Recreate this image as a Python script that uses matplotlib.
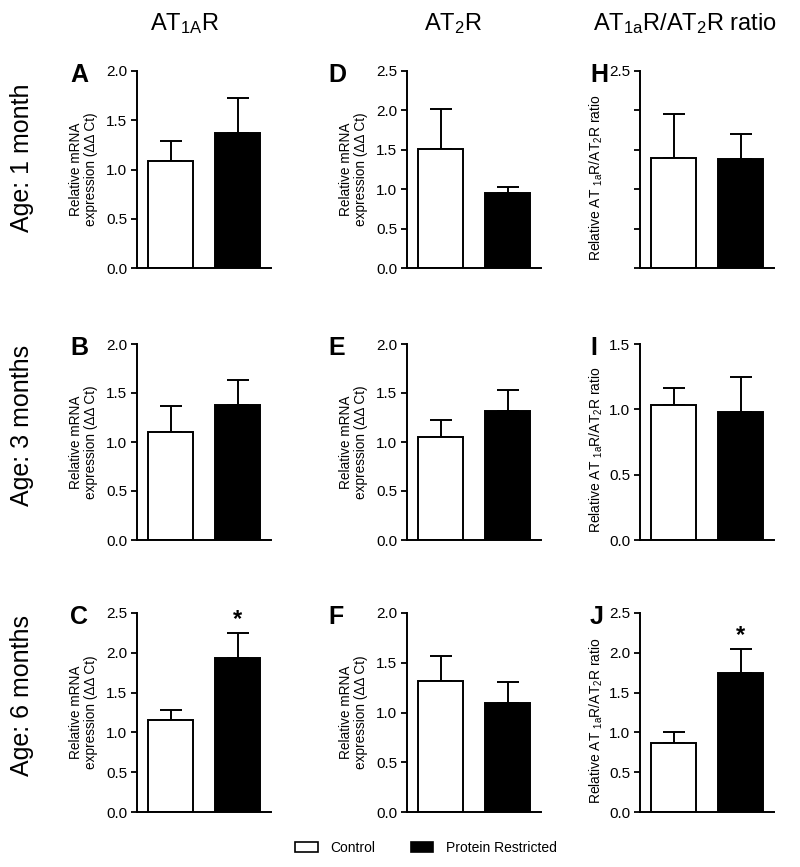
import matplotlib
matplotlib.use("Agg")
import matplotlib.pyplot as plt
from matplotlib.patches import Patch

plt.rcParams['font.family'] = ['Liberation Sans', 'DejaVu Sans']
plt.rcParams['mathtext.default'] = 'regular'

# panel order: column by column (A B C | D E F | H I J)
letters = ['A', 'B', 'C', 'D', 'E', 'F', 'H', 'I', 'J']
control_mean = [1.09, 1.10, 1.15, 1.51, 1.05, 1.32, 1.40, 1.03, 0.87]
control_sem = [0.20, 0.27, 0.13, 0.51, 0.17, 0.25, 0.55, 0.13, 0.13]
pr_mean = [1.37, 1.38, 1.93, 0.95, 1.32, 1.10, 1.38, 0.98, 1.75]
pr_sem = [0.36, 0.25, 0.32, 0.08, 0.21, 0.21, 0.32, 0.27, 0.30]
y_max = [2.0, 2.0, 2.5, 2.5, 2.0, 2.0, 2.5, 1.5, 2.5]
significant = [False, False, True, False, False, False, False, False, True]

col_titles = ['AT$_{1A}$R', 'AT$_{2}$R', 'AT$_{1a}$R/AT$_{2}$R ratio']
row_titles = ['Age: 1 month', 'Age: 3 months', 'Age: 6 months']
groups = ['Control', 'Protein Restricted']

mrna_label = 'Relative mRNA\nexpression (ΔΔ Ct)'
ratio_label = 'Relative AT $_{1a}$R/AT$_{2}$R ratio'

W, H = 800, 867
fig = plt.figure(figsize=(W / 100, H / 100), dpi=100)

lefts = [137, 407, 640]       # pixel x of y spine
width_px = 134
tops = [71, 344, 613]          # pixel y of top tick
bottoms = [268, 540, 812]      # pixel y of zero line
letter_x = [70, 328, 590]
title_x = [185, 453, 685]
row_y = [158, 425, 696]

for i in range(9):
    col, row = i // 3, i % 3
    ax = fig.add_axes([lefts[col] / W, 1 - bottoms[row] / H,
                       width_px / W, (bottoms[row] - tops[row]) / H])
    ax.errorbar([0, 1], [control_mean[i], pr_mean[i]],
                yerr=[[0, 0], [control_sem[i], pr_sem[i]]],
                fmt='none', ecolor='black', elinewidth=1.4, capsize=8,
                capthick=1.4, zorder=1, clip_on=False)
    ax.bar([0, 1], [control_mean[i], pr_mean[i]], width=0.66,
           color=['white', 'black'], edgecolor='black', linewidth=1.4,
           zorder=2)
    ax.set_xlim(-0.5, 1.5)
    ax.set_ylim(0, y_max[i])
    ticks = [k * 0.5 for k in range(int(y_max[i] / 0.5) + 1)]
    ax.set_yticks(ticks)
    if letters[i] == 'H':
        ax.set_yticklabels([''] * (len(ticks) - 1) + ['2.5'])
    else:
        ax.set_yticklabels(['%.1f' % t for t in ticks])
    ax.set_xticks([])
    for s in ['top', 'right']:
        ax.spines[s].set_visible(False)
    for s in ['left', 'bottom']:
        ax.spines[s].set_linewidth(1.4)
    ax.tick_params(axis='y', direction='out', length=4, width=1.3,
                   labelsize=11, pad=3)
    if col < 2:
        ax.set_ylabel(mrna_label, fontsize=9.8, labelpad=6, linespacing=1.1)
    else:
        ax.set_ylabel(ratio_label, fontsize=10)
        ax.yaxis.set_label_coords(-0.26, 0.46)
    if significant[i]:
        ax.annotate('*', xy=(1, pr_mean[i] + pr_sem[i]), xytext=(0, 1),
                    textcoords='offset points', ha='center', va='bottom',
                    fontsize=17, fontweight='bold')
    fig.text(letter_x[col] / W, 1 - (tops[row] + 4) / H, letters[i],
             fontsize=18, fontweight='bold', ha='left', va='center')

for c in range(3):
    fig.text(title_x[c] / W, 1 - 24 / H, col_titles[c], fontsize=17,
             ha='center', va='center')
for r in range(3):
    fig.text(22 / W, 1 - row_y[r] / H, row_titles[r], fontsize=18,
             rotation=90, ha='center', va='center')

handles = [Patch(facecolor='white', edgecolor='black', linewidth=1.2),
           Patch(facecolor='black', edgecolor='black', linewidth=1.2)]
fig.legend(handles, groups, loc='center', bbox_to_anchor=(426 / W, 1 - 848 / H),
           ncol=2, frameon=False, fontsize=10, handlelength=1.6,
           handleheight=0.7, handletextpad=0.9, columnspacing=2.6)

fig.savefig('out.png', dpi=100)
